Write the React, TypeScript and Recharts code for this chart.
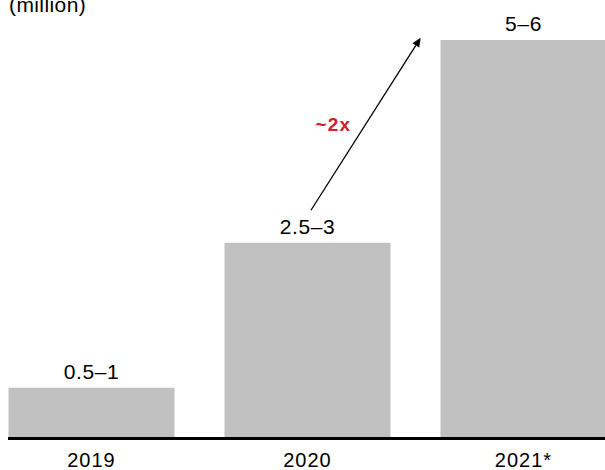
import React from "react";
import { BarChart, Bar, XAxis, YAxis, LabelList, ReferenceLine } from "recharts";

const years = ["2019", "2020", "2021*"];
const midValues = [0.7, 2.7, 5.5];
const rangeLabels = ["0.5–1", "2.5–3", "5–6"];
const unitLabel = "(million)";
const growthLabel = "~2x";
// arrow: from just above the 2020 label towards the top-left of the 2021* bar
// x given as category + fraction of the distance to the next category, y in value units
const arrowFrom = { x: "2020", y: 3.15 };
const arrowTo = { x: "2021*", y: 5.53 };
const arrowStartFrac = 0.016;
const arrowEndFrac = 0.524;

const data = years.map((y, i) => ({ year: y, value: midValues[i], label: rangeLabels[i] }));

const FONT = "'Liberation Sans', Arial, sans-serif";
const PAD = { left: -24.5, right: -26.5 };

const ArrowShape = (props: any) => {
  const { x1, y1, x2, y2 } = props;
  if ([x1, y1, x2, y2].some((v) => v === undefined || isNaN(v))) return null;
  const sx = x1 + arrowStartFrac * (x2 - x1);
  const ex = x1 + arrowEndFrac * (x2 - x1);
  const sy = y1;
  const ey = y2;
  const dx = ex - sx;
  const dy = ey - sy;
  const len = Math.sqrt(dx * dx + dy * dy);
  const ux = dx / len;
  const uy = dy / len;
  const hl = 9;
  const hw = 4;
  const bx = ex - ux * hl;
  const by = ey - uy * hl;
  const p1 = `${ex},${ey}`;
  const p2 = `${bx - uy * hw},${by + ux * hw}`;
  const p3 = `${bx + uy * hw},${by - ux * hw}`;
  const mx = (sx + ex) / 2;
  const my = (sy + ey) / 2;
  return (
    <g>
      <line x1={sx} y1={sy} x2={bx} y2={by} stroke="#000" strokeWidth={1.3} />
      <polygon points={`${p1} ${p2} ${p3}`} fill="#000" />
      <text
        x={mx - 32.5}
        y={my + 6.5}
        textAnchor="middle"
        fill="#d0202e"
        fontSize={19}
        fontWeight="bold"
        letterSpacing={1.2}
        fontFamily={FONT}
      >
        {growthLabel}
      </text>
    </g>
  );
};

export default function App() {
  return (
    <div
      style={{
        position: "absolute",
        left: 0,
        top: 0,
        width: 605,
        height: 470,
        overflow: "hidden",
        background: "#fff",
        fontFamily: FONT,
      }}
    >
      <div
        style={{
          position: "absolute",
          left: 9,
          top: -6,
          fontSize: 21,
          letterSpacing: 0.4,
          color: "#000",
          lineHeight: "21px",
          fontFamily: FONT,
        }}
      >
        {unitLabel}
      </div>
      <BarChart
        width={605}
        height={470}
        data={data}
        margin={{ top: 40, right: 0, bottom: 0, left: 8 }}
        barSize={166}
      >
        <XAxis
          dataKey="year"
          height={31.5}
          padding={PAD}
          tickLine={false}
          tickSize={0}
          tickMargin={14}
          axisLine={false}
          interval={0}
          tick={{ fill: "#000", fontSize: 20, fontFamily: FONT, letterSpacing: 1 }}
        />
        <YAxis hide domain={[0, 5.5]} allowDataOverflow />
        <Bar dataKey="value" fill="#c0c1c0" isAnimationActive={false}>
          <LabelList
            dataKey="label"
            position="top"
            offset={9}
            fill="#000"
            fontSize={21}
            letterSpacing={0.6}
            fontFamily={FONT}
          />
        </Bar>
        <ReferenceLine y={0} stroke="#000" strokeWidth={3} ifOverflow="visible" />
        <ReferenceLine segment={[arrowFrom, arrowTo]} ifOverflow="visible" shape={ArrowShape} />
      </BarChart>
    </div>
  );
}
